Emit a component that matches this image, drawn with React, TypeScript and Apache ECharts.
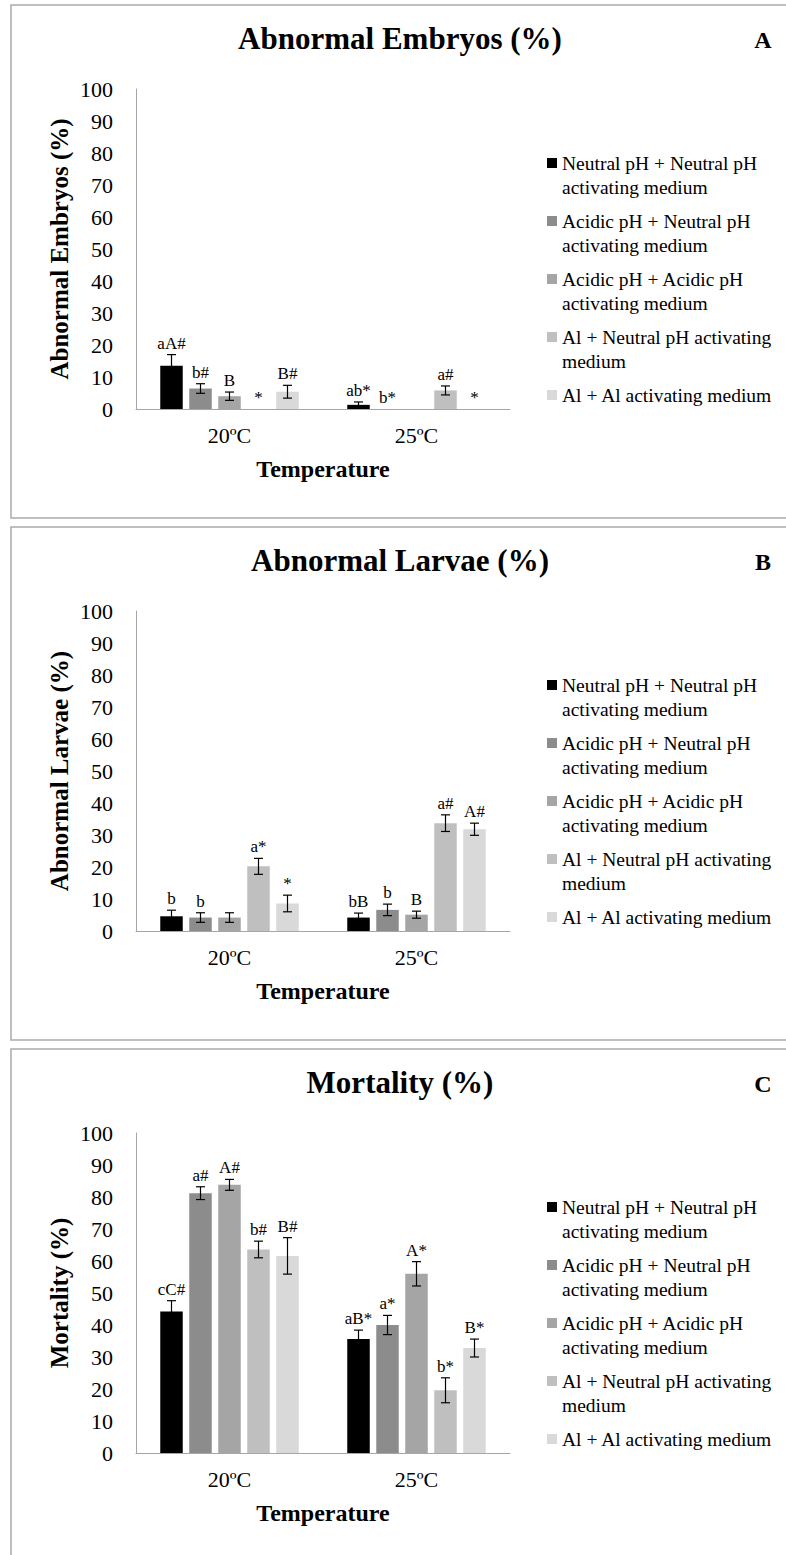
import React, { useEffect, useRef } from "react";
import * as echarts from "echarts";

// ---- data ----
const temperatures = ["20ºC", "25ºC"];

const treatments = [
  "Neutral pH + Neutral pH activating medium",
  "Acidic pH + Neutral pH activating medium",
  "Acidic pH + Acidic pH activating medium",
  "Al + Neutral pH activating medium",
  "Al + Al activating medium",
];

const legendLabels = [
  "Neutral pH + Neutral pH\nactivating medium",
  "Acidic pH + Neutral pH\nactivating medium",
  "Acidic pH + Acidic pH\nactivating medium",
  "Al + Neutral pH activating\nmedium",
  "Al + Al activating medium",
];

// per treatment: [20ºC, 25ºC]
const embryoMeans = [[13.5, 1.3], [6.4, 0], [4.0, 0], [0, 5.8], [5.4, 0]];
const embryoErrors = [[3.5, 0.9], [1.5, 0], [1.3, 0], [0, 1.4], [2.0, 0]];
const embryoLetters = [["aA#", "ab*"], ["b#", "b*"], ["B", ""], ["*", "a#"], ["B#", "*"]];

const larvaeMeans = [[4.6, 4.2], [4.2, 6.6], [4.2, 5.1], [20.2, 33.7], [8.6, 31.8]];
const larvaeErrors = [[1.9, 1.4], [1.5, 1.8], [1.5, 1.1], [2.5, 2.6], [2.6, 1.9]];
const larvaeLetters = [["b", "bB"], ["b", "b"], ["", "B"], ["a*", "a#"], ["*", "A#"]];

const mortalityMeans = [[44.2, 35.6], [81.2, 40.0], [83.8, 56.0], [63.6, 19.6], [61.6, 32.8]];
const mortalityErrors = [[3.4, 2.8], [2.0, 3.0], [1.7, 3.8], [2.6, 3.9], [5.7, 2.8]];
const mortalityLetters = [["cC#", "aB*"], ["a#", "a*"], ["A#", "A*"], ["b#", "b*"], ["B#", "B*"]];

const panelTitles = ["Abnormal Embryos (%)", "Abnormal Larvae (%)", "Mortality (%)"];
const panelTags = ["A", "B", "C"];
const yAxisTitles = ["Abnormal Embryos (%)", "Abnormal Larvae (%)", "Mortality (%)"];
const xAxisTitle = "Temperature";
const yMin = 0;
const yMax = 100;
const yStep = 10;

// ---- styling / layout ----
const colors = ["#000000", "#8c8c8c", "#a5a5a5", "#bfbfbf", "#d9d9d9"];
const FONT = '"Liberation Serif", "Times New Roman", serif';
const PITCH = 522;
const GRID_TOP = 89;
const GRID_H = 320;
const GRID_LEFT = 136;
const GRID_W = 374;
const BAR_W = 22.5;
const BAR_GAP = 6.5;
const AXIS_COLOR = "#a6a6a6";

const panels = [
  { means: embryoMeans, errors: embryoErrors, letters: embryoLetters },
  { means: larvaeMeans, errors: larvaeErrors, letters: larvaeLetters },
  { means: mortalityMeans, errors: mortalityErrors, letters: mortalityLetters },
];

function buildOption() {
  const grid: any[] = [];
  const xAxis: any[] = [];
  const yAxis: any[] = [];
  const series: any[] = [];
  const graphic: any[] = [];

  panels.forEach((panel, p) => {
    const off = p * PITCH;
    grid.push({ left: GRID_LEFT, top: GRID_TOP + off, width: GRID_W, height: GRID_H });
    xAxis.push({
      gridIndex: p,
      type: "category",
      data: temperatures,
      axisLine: { show: true, lineStyle: { color: AXIS_COLOR, width: 1 } },
      axisTick: { show: false },
      splitLine: { show: false },
      axisLabel: { fontSize: 22, color: "#000", fontFamily: FONT, margin: 15 },
      name: xAxisTitle,
      nameLocation: "middle",
      nameGap: 48,
      nameTextStyle: { fontSize: 24, fontWeight: "bold", color: "#000", fontFamily: FONT },
    });
    yAxis.push({
      gridIndex: p,
      type: "value",
      min: yMin,
      max: yMax,
      interval: yStep,
      axisLine: { show: true, lineStyle: { color: AXIS_COLOR, width: 1 } },
      axisTick: { show: false },
      splitLine: { show: false },
      axisLabel: { fontSize: 22, color: "#000", fontFamily: FONT, margin: 23 },
      name: yAxisTitles[p],
      nameLocation: "middle",
      nameGap: 64,
      nameTextStyle: { fontSize: 25, fontWeight: "bold", color: "#000", fontFamily: FONT },
    });

    treatments.forEach((name, k) => {
      series.push({
        type: "bar",
        name,
        xAxisIndex: p,
        yAxisIndex: p,
        data: panel.means[k],
        barWidth: BAR_W,
        barGap: (BAR_GAP / BAR_W) * 100 + "%",
        itemStyle: { color: colors[k] },
      });
    });

    // error bars and significance letters
    const errData: number[][] = [];
    treatments.forEach((_, k) => {
      temperatures.forEach((__, c) => {
        errData.push([c, k, panel.means[k][c], panel.errors[k][c]]);
      });
    });
    series.push({
      type: "custom",
      xAxisIndex: p,
      yAxisIndex: p,
      data: errData,
      z: 10,
      clip: false,
      renderItem: (params: any, api: any) => {
        const c = api.value(0);
        const k = api.value(1);
        const mean = api.value(2);
        const err = api.value(3);
        const center = api.coord([c, 0])[0];
        const groupW = 5 * BAR_W + 4 * BAR_GAP;
        const x = center - groupW / 2 + BAR_W / 2 + k * (BAR_W + BAR_GAP);
        const yTop = api.coord([c, mean + err])[1];
        const yBot = api.coord([c, Math.max(mean - err, 0)])[1];
        const children: any[] = [];
        if (err > 0) {
          const st = { stroke: "#000", lineWidth: 1.2 };
          children.push({ type: "line", shape: { x1: x, y1: yTop, x2: x, y2: yBot }, style: st });
          children.push({ type: "line", shape: { x1: x - 4.5, y1: yTop, x2: x + 4.5, y2: yTop }, style: st });
          children.push({ type: "line", shape: { x1: x - 4.5, y1: yBot, x2: x + 4.5, y2: yBot }, style: st });
        }
        const label = panel.letters[k][c];
        if (label) {
          children.push({
            type: "text",
            x,
            y: yTop - 3,
            style: {
              text: label,
              fill: "#000",
              font: `17px ${FONT}`,
              align: "center",
              verticalAlign: "bottom",
            },
          });
        }
        return { type: "group", children };
      },
    });

    // panel frame
    graphic.push({
      type: "rect",
      shape: { x: 11, y: 5 + off, width: 800, height: 513 },
      style: { fill: "none", stroke: "#ababab", lineWidth: 1.5 },
      z: 0,
    });
    // panel title and tag
    graphic.push({
      type: "text",
      x: 400,
      y: 38 + off,
      style: {
        text: panelTitles[p],
        font: `bold 31px ${FONT}`,
        fill: "#000",
        align: "center",
        verticalAlign: "middle",
      },
    });
    graphic.push({
      type: "text",
      x: 763,
      y: 40 + off,
      style: {
        text: panelTags[p],
        font: `bold 24px ${FONT}`,
        fill: "#000",
        align: "center",
        verticalAlign: "middle",
      },
    });
    // legend
    legendLabels.forEach((lab, k) => {
      const cy = 163 + off + k * 58;
      graphic.push({
        type: "rect",
        shape: { x: 547, y: cy - 5, width: 10, height: 10 },
        style: { fill: colors[k] },
      });
      graphic.push({
        type: "text",
        x: 562,
        y: cy - 12,
        style: {
          text: lab,
          font: `19.5px ${FONT}`,
          lineHeight: 24,
          fill: "#000",
          align: "left",
          verticalAlign: "top",
        },
      });
    });
  });

  return {
    animation: false,
    backgroundColor: "#ffffff",
    textStyle: { fontFamily: FONT },
    grid,
    xAxis,
    yAxis,
    series,
    graphic,
  };
}

export default function App() {
  const ref = useRef<HTMLDivElement>(null);
  useEffect(() => {
    if (!ref.current) return;
    const chart = echarts.init(ref.current, null, { renderer: "svg" });
    chart.setOption(buildOption());
    return () => chart.dispose();
  }, []);
  return (
    <div
      ref={ref}
      style={{ position: "absolute", left: 0, top: 0, width: 786, height: 1555, background: "#fff" }}
    />
  );
}
